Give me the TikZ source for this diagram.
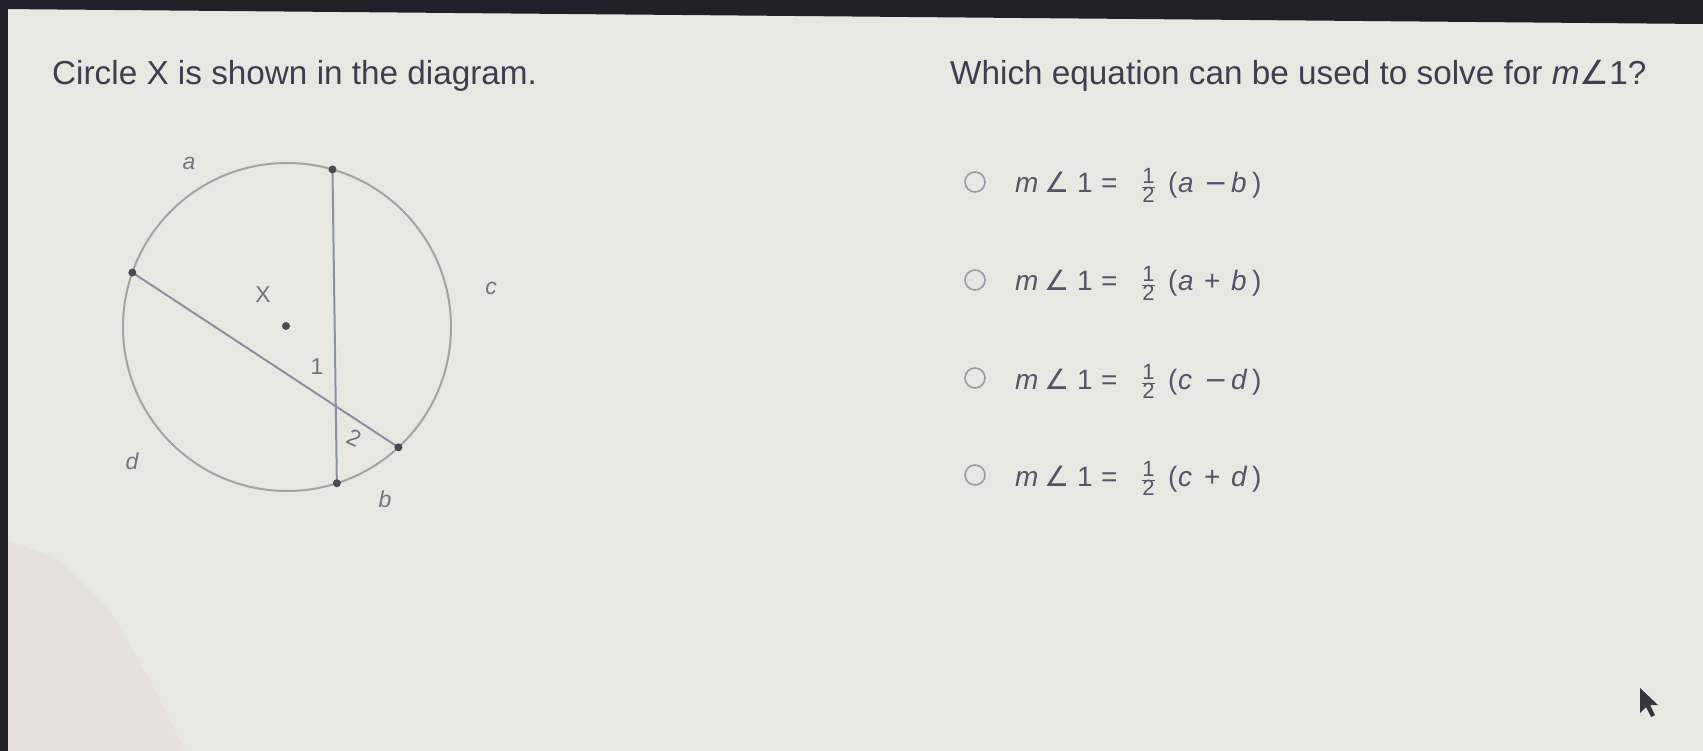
\documentclass[tikz,border=0pt]{standalone}
\usepackage{fontspec}
\setmainfont{Liberation Sans}
\newfontfamily\dvs{DejaVu Sans}
\usetikzlibrary{calc}
\definecolor{bg}{HTML}{E8E8E2}
\definecolor{bezel}{HTML}{202028}
\definecolor{pinkbg}{HTML}{E7E1DD}
\definecolor{qtext}{HTML}{3E3E50}
\definecolor{eqtext}{HTML}{55556A}
\definecolor{radiocol}{HTML}{9A9AA4}
\definecolor{circcol}{HTML}{A0A4A4}
\definecolor{chordcol}{HTML}{8A92A2}
\definecolor{lblcol}{HTML}{74747E}
\definecolor{dotcol}{HTML}{4A4A52}
\newcommand{\angsym}{{\dvs\char"2220}}
\newcommand{\halffrac}{$\frac{\mbox{\fontsize{22}{22}\selectfont 1}}{\mbox{\fontsize{22}{22}\selectfont 2}}$}
\newcommand{\eqpart}[2]{\makebox[0pt][l]{\hspace*{#1pt}#2}}
% one answer row: #1 first letter, #2 operator, #3 second letter
\newcommand{\eqrow}[3]{\eqpart{0}{\itshape m}\eqpart{29}{\angsym}\eqpart{62}{1}\eqpart{86}{=}\eqpart{126}{\halffrac}\eqpart{153}{(}\eqpart{163}{\itshape #1}\eqpart{189}{#2}\eqpart{216}{\itshape #3}\eqpart{237}{)}\hspace*{252pt}}
\begin{document}
\begin{tikzpicture}[x=1pt,y=-1pt,
  question/.style={anchor=base west, text=qtext, font=\fontsize{33.3}{40}\selectfont, inner sep=0},
  radio/.style={circle, draw=radiocol, line width=1.6pt, minimum size=20pt, inner sep=0},
  eqn/.style={anchor=base west, text=eqtext, font=\fontsize{28}{32}\selectfont, inner sep=0},
  lbl/.style={text=lblcol, font=\fontsize{23}{26}\selectfont, inner sep=0},
  dot/.style={circle, fill=dotcol, minimum size=8pt, inner sep=0},
  circline/.style={draw=circcol, line width=2pt},
  chord/.style={draw=chordcol, line width=2pt}]
\useasboundingbox (0,0) rectangle (1703,751);
% background (photo of a screen)
\fill[bg] (0,0) rectangle (1703,751);
\fill[pinkbg] (8,540) -- (60,560) -- (110,610) -- (150,680) -- (185,751) -- (8,751) -- cycle;
\fill[bezel] (0,0) -- (1703,0) -- (1703,24) -- (0,9) -- cycle;
\fill[bezel] (0,0) rectangle (8,751);

% headings
\node[question] (t1) at (52,85) {Circle X is shown in the diagram.};
\node[question] (t2) at (950,85) {Which equation can be used to solve for {\itshape m}\angsym 1?};

% answer choices
\node[radio] (r1) at (975,182) {};
\node[radio] (r2) at (975,280) {};
\node[radio] (r3) at (975,378) {};
\node[radio] (r4) at (975,475) {};
\node[eqn] (e1) at (1015,193) {\eqrow{a}{{\dvs −}}{b}};
\node[eqn] (e2) at (1015,291) {\eqrow{a}{+}{b}};
\node[eqn] (e3) at (1015,389) {\eqrow{c}{{\dvs −}}{d}};
\node[eqn] (e4) at (1015,486) {\eqrow{c}{+}{d}};

% circle diagram
\coordinate (X) at (287,327);
\coordinate (T) at ($(X)+(-73.9:164)$);
\coordinate (L) at ($(X)+(199.4:164)$);
\coordinate (R) at ($(X)+(47.2:164)$);
\coordinate (B) at ($(X)+(72.3:164)$);
\draw[circline] (X) circle[radius=164pt];
\draw[chord] (T) -- (B);
\draw[chord] (L) -- (R);
\node[dot] (dX) at (286,326) {};
\node[dot] (dT) at (T) {};
\node[dot] (dL) at (L) {};
\node[dot] (dR) at (R) {};
\node[dot] (dB) at (B) {};
\node[lbl] (la) at (189,163) {\itshape a};
\node[lbl] (lX) at (263,295) {X};
\node[lbl] (lc) at (491,288) {\itshape c};
\node[lbl] (l1) at (317,367) {1};
\node[lbl, rotate=-25] (l2) at (354,438) {2};
\node[lbl] (ld) at (132,461) {\itshape d};
\node[lbl] (lb) at (385,499) {\itshape b};

% mouse pointer
\fill[bezel!90] (1640,688) -- (1640,713) -- (1646,707) -- (1651,717) -- (1655,715) -- (1650,705) -- (1658,705) -- cycle;
\end{tikzpicture}
\end{document}
